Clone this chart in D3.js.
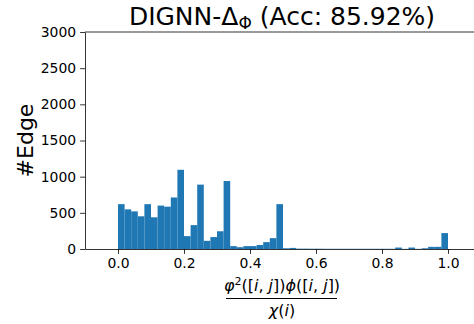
<!DOCTYPE html>
<html>
<head>
<meta charset="utf-8">
<script src="https://cdn.jsdelivr.net/npm/d3@7"></script>
<style>
  body { margin: 0; background: #fff; }
  svg { display: block; font-family: "DejaVu Sans", sans-serif; }
</style>
</head>
<body>
<div id="chart"></div>
<script>
// histogram bins: left edge, width 0.02
const binStart = d3.range(0, 1, 0.02).map(d => +d.toFixed(2));
const counts = [
  620, 548, 520, 452, 620, 438, 600, 585, 712, 1095,
  178, 330, 890, 113, 165, 245, 940, 40, 25, 40,
  40, 55, 95, 150, 620, 10, 15, 5, 5, 4,
  4, 3, 3, 3, 3, 3, 3, 3, 3, 3,
  3, 3, 20, 2, 20, 2, 10, 30, 30, 220
];
const binWidth = 0.02;
const xTicks = [0, 0.2, 0.4, 0.6, 0.8, 1.0];
const yTicks = [0, 500, 1000, 1500, 2000, 2500, 3000];

const width = 474, height = 324;
const margin = {top: 32, right: -7, bottom: 75, left: 85};

const svg = d3.select('#chart').append('svg')
  .attr('width', width)
  .attr('height', height);

const x = d3.scaleLinear()
  .domain([-0.1, 1.1])
  .range([margin.left, width - margin.right]);
const y = d3.scaleLinear()
  .domain([0, 3000])
  .range([height - margin.bottom, margin.top]);

const data = binStart.map((b, i) => ({x0: b, x1: b + binWidth, n: counts[i]}));

svg.append('g')
  .selectAll('rect')
  .data(data)
  .join('rect')
  .attr('x', d => x(d.x0))
  .attr('width', d => x(d.x1) - x(d.x0))
  .attr('y', d => y(d.n))
  .attr('height', d => y(0) - y(d.n))
  .attr('fill', '#1f77b4');

const xAxis = g => g
  .attr('transform', `translate(0,${y(0)})`)
  .call(d3.axisBottom(x).tickValues(xTicks).tickFormat(d3.format('.1f')).tickSize(4.9).tickPadding(4).tickSizeOuter(0))
  .call(g => g.selectAll('text').attr('font-size', '13.9px').attr('fill', '#000'))
  .call(g => g.selectAll('line, path').attr('stroke', '#000').attr('stroke-width', 0.8));

const yAxis = g => g
  .attr('transform', `translate(${x(-0.1)},0)`)
  .call(d3.axisLeft(y).tickValues(yTicks).tickFormat(d3.format('d')).tickSize(4.9).tickPadding(4).tickSizeOuter(0))
  .call(g => g.selectAll('text').attr('font-size', '13.9px').attr('fill', '#000'))
  .call(g => g.selectAll('line, path').attr('stroke', '#000').attr('stroke-width', 0.8));

svg.append('g').call(xAxis);
svg.append('g').call(yAxis);
svg.selectAll('.tick text').attr('font-family', 'DejaVu Sans');

// top and right spines
svg.append('line')
  .attr('x1', x(-0.1)).attr('x2', x(1.1))
  .attr('y1', y(3000)).attr('y2', y(3000))
  .attr('stroke', '#000').attr('stroke-width', 0.8);
svg.append('line')
  .attr('x1', x(1.1)).attr('x2', x(1.1))
  .attr('y1', y(3000)).attr('y2', y(0))
  .attr('stroke', '#000').attr('stroke-width', 0.8);

// title
const title = svg.append('text')
  .attr('x', 282)
  .attr('y', 25)
  .attr('text-anchor', 'middle')
  .attr('font-size', '25px')
  .attr('fill', '#000');
title.append('tspan').text('DIGNN-Δ');
title.append('tspan').attr('font-size', '17px').attr('dy', 4).text('Φ');
title.append('tspan').attr('dy', -4).text(' (Acc: 85.92%)');

// y label
svg.append('text')
  .attr('transform', `translate(33,${(y(0) + y(3000)) / 2}) rotate(-90)`)
  .attr('text-anchor', 'middle')
  .attr('font-size', '22px')
  .attr('fill', '#000')
  .text('#Edge');

// x label as fraction
const fx = 282;
const num = svg.append('text')
  .attr('x', fx).attr('y', 291)
  .attr('text-anchor', 'middle')
  .attr('font-size', '16px')
  .attr('fill', '#000');
const parts = [
  ['φ', true], ['2', false, 'sup'], ['([', false], ['i', true], [', ', false], ['j', true], ['])', false],
  ['ϕ', true], ['([', false], ['i', true], [', ', false], ['j', true], ['])', false]
];
parts.forEach(([t, it, kind], i) => {
  const ts = num.append('tspan').text(t).attr('font-style', it ? 'italic' : 'normal');
  if (kind === 'sup') ts.attr('font-size', '11px').attr('dy', -6);
  else if (i > 0 && parts[i - 1][2] === 'sup') ts.attr('dy', 6);
});
svg.append('line')
  .attr('x1', 226).attr('x2', 337)
  .attr('y1', 298.5).attr('y2', 298.5)
  .attr('stroke', '#000').attr('stroke-width', 1.2);
const den = svg.append('text')
  .attr('x', fx).attr('y', 316)
  .attr('text-anchor', 'middle')
  .attr('font-size', '16px')
  .attr('fill', '#000');
den.append('tspan').attr('font-style', 'italic').text('χ');
den.append('tspan').text('(');
den.append('tspan').attr('font-style', 'italic').text('i');
den.append('tspan').text(')');
</script>
</body>
</html>
